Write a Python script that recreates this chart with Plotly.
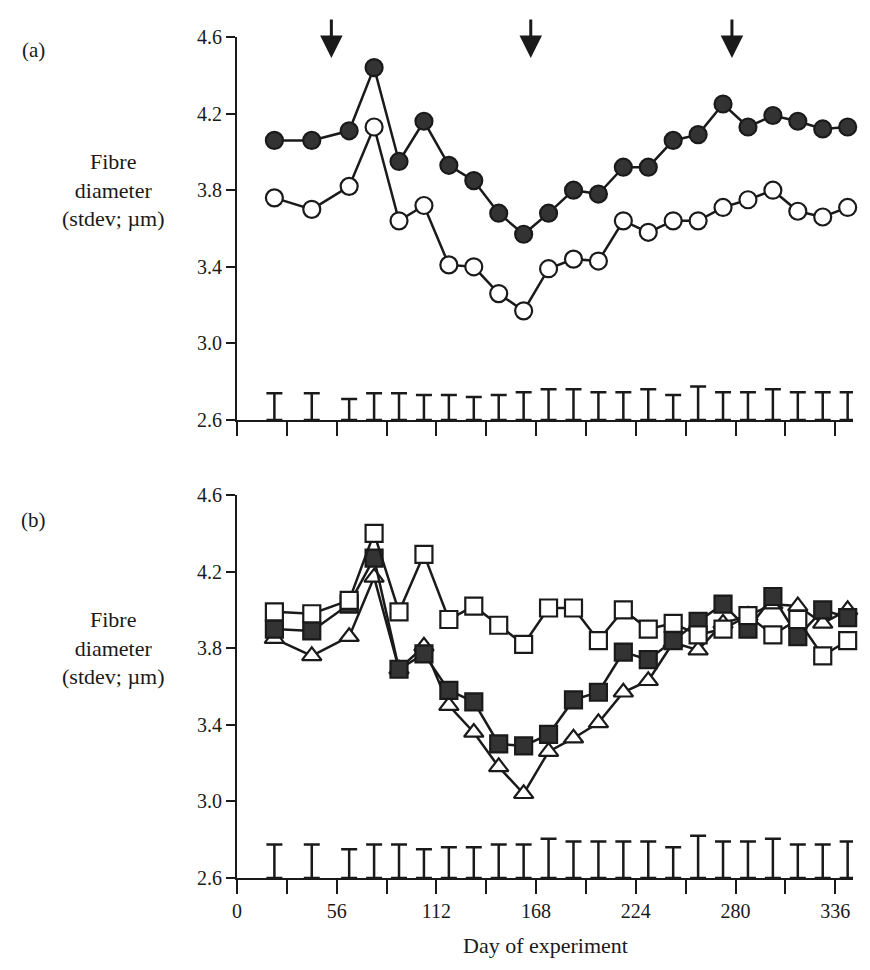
import plotly.graph_objects as go

# ---------------- data ----------------
days = [21, 42, 63, 77, 91, 105, 119, 133, 147, 161, 175, 189, 203, 217, 231,
        245, 259, 273, 287, 301, 315, 329, 343]

# panel (a)
a_filled = [4.06, 4.06, 4.11, 4.44, 3.95, 4.16, 3.93, 3.85, 3.68, 3.57, 3.68, 3.80,
            3.78, 3.92, 3.92, 4.06, 4.09, 4.25, 4.13, 4.19, 4.16, 4.12, 4.13]
a_open = [3.76, 3.70, 3.82, 4.13, 3.64, 3.72, 3.41, 3.40, 3.26, 3.17, 3.39, 3.44,
          3.43, 3.64, 3.58, 3.64, 3.64, 3.71, 3.75, 3.80, 3.69, 3.66, 3.71]
a_err = [0.14, 0.14, 0.11, 0.14, 0.14, 0.13, 0.13, 0.12, 0.13, 0.145, 0.16, 0.16,
         0.145, 0.145, 0.16, 0.13, 0.175, 0.145, 0.145, 0.16, 0.145, 0.145, 0.145]

# panel (b)
b_open_sq = [3.99, 3.98, 4.05, 4.40, 3.99, 4.29, 3.95, 4.02, 3.92, 3.82, 4.01, 4.01,
             3.84, 4.00, 3.90, 3.93, 3.87, 3.90, 3.97, 3.87, 3.95, 3.76, 3.84]
b_filled_sq = [3.90, 3.89, 4.03, 4.27, 3.69, 3.77, 3.58, 3.52, 3.30, 3.29, 3.35, 3.53,
               3.57, 3.78, 3.74, 3.84, 3.94, 4.03, 3.90, 4.07, 3.86, 4.00, 3.96]
b_tri = [3.85, 3.76, 3.86, 4.17, 3.69, 3.81, 3.50, 3.36, 3.18, 3.04, 3.26, 3.33,
         3.41, 3.57, 3.63, 3.83, 3.79, 3.93, 3.97, 4.03, 4.02, 3.93, 4.00]
b_err = [0.175, 0.175, 0.15, 0.175, 0.175, 0.15, 0.16, 0.16, 0.175, 0.175, 0.205, 0.19,
         0.19, 0.19, 0.19, 0.16, 0.22, 0.19, 0.19, 0.205, 0.175, 0.175, 0.19]

arrow_days = [53, 165, 278]

y_ticks = [2.6, 3.0, 3.4, 3.8, 4.2, 4.6]
x_ticks = list(range(0, 337, 28))
x_labels = [str(v) if v % 56 == 0 else "" for v in x_ticks]

# ---------------- figure ----------------
FONT = "Liberation Serif"
INK = "#1a1a1a"
FILL = "#333333"

fig = go.Figure()


def series(x, y, xa, ya, symbol, filled):
    return go.Scatter(
        x=x, y=y, xaxis=xa, yaxis=ya, mode="lines+markers",
        line=dict(color=INK, width=2.5),
        marker=dict(symbol=symbol, size=17,
                    color=FILL if filled else "white",
                    line=dict(color=INK, width=2.2)),
        showlegend=False, cliponaxis=False)


def errs(x, e, xa, ya):
    return go.Scatter(
        x=x, y=[2.6] * len(x), xaxis=xa, yaxis=ya, mode="markers",
        marker=dict(size=1, color="rgba(0,0,0,0)"),
        error_y=dict(type="data", symmetric=False, array=e,
                     arrayminus=[0] * len(x), color=INK, thickness=2.5, width=8),
        showlegend=False, cliponaxis=False, hoverinfo="skip")


# panel (a)
fig.add_trace(errs(days, a_err, "x", "y"))
fig.add_trace(series(days, a_open, "x", "y", "circle", False))
fig.add_trace(series(days, a_filled, "x", "y", "circle", True))

# panel (b)
fig.add_trace(errs(days, b_err, "x2", "y2"))
fig.add_trace(series(days, b_tri, "x2", "y2", "triangle-up", False))
fig.add_trace(series(days, b_filled_sq, "x2", "y2", "square", True))
fig.add_trace(series(days, b_open_sq, "x2", "y2", "square", False))

tickfont = dict(family=FONT, size=20, color=INK)
xcommon = dict(range=[0, 346], tickvals=x_ticks, showgrid=False, zeroline=False,
               showline=True, linecolor=INK, linewidth=2, ticks="outside",
               ticklen=14, tickwidth=2, tickcolor=INK, tickfont=tickfont)
ycommon = dict(range=[2.6, 4.6], tickvals=y_ticks,
               ticktext=[f"{v:.1f}" for v in y_ticks], showgrid=False,
               zeroline=False, showline=True, linecolor=INK, linewidth=2,
               ticks="outside", ticklen=9, tickwidth=2, tickcolor=INK,
               tickfont=tickfont)

fig.update_layout(
    width=862, height=962,
    margin=dict(l=229, r=17, t=29, b=92),
    paper_bgcolor="white", plot_bgcolor="white",
    font=dict(family=FONT, color=INK),
    xaxis=dict(**xcommon, domain=[0, 1], anchor="y",
               ticktext=[""] * len(x_ticks)),
    yaxis=dict(**ycommon, domain=[0.5446, 1.0], anchor="x"),
    xaxis2=dict(**xcommon, domain=[0, 1], anchor="y2", ticktext=x_labels),
    yaxis2=dict(**ycommon, domain=[0.0, 0.4554], anchor="x2"),
)

# y-axis lines continue down past the x axis, as in the reference
for ya, xa in (("y", "x"), ("y2", "x2")):
    fig.add_shape(type="line", xref=xa, x0=0, x1=0, yref=f"{ya} domain",
                  y0=-0.037, y1=0, line=dict(color=INK, width=2))

# arrows (panel a)
for d in arrow_days:
    fig.add_annotation(x=d, y=4.49, xref="x", yref="y", ax=0, ay=-40,
                       showarrow=True, arrowhead=2, arrowsize=1.5,
                       arrowwidth=3, arrowcolor=INK, text="")

ylabel = "Fibre<br>diameter<br>(stdev; µm)"
for ya in ("y", "y2"):
    fig.add_annotation(text=ylabel, xref="paper", yref=ya, x=-0.2, y=3.8,
                       showarrow=False, font=dict(family=FONT, size=22, color=INK),
                       align="center", xanchor="center", yanchor="middle")
fig.add_annotation(text="(a)", xref="paper", yref="y", x=-0.33, y=4.53,
                   showarrow=False, font=dict(family=FONT, size=21, color=INK),
                   xanchor="center", yanchor="middle")
fig.add_annotation(text="(b)", xref="paper", yref="y2", x=-0.33, y=4.47,
                   showarrow=False, font=dict(family=FONT, size=21, color=INK),
                   xanchor="center", yanchor="middle")
fig.add_annotation(text="Day of experiment", xref="paper", yref="paper",
                   x=0.5, y=-0.08, showarrow=False,
                   font=dict(family=FONT, size=22, color=INK),
                   xanchor="center", yanchor="middle")

fig.write_html("out.html")
